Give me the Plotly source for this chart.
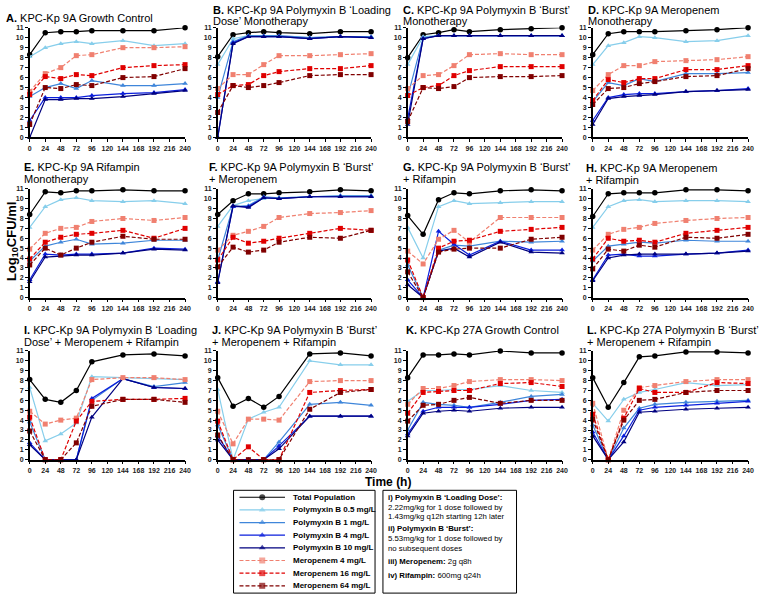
import plotly.graph_objects as go

W, H = 760, 605

times = [0, 24, 48, 72, 96, 144, 192, 240]
x_ticks = [0, 24, 48, 72, 96, 120, 144, 168, 192, 216, 240]
y_ticks = [0, 1, 2, 3, 4, 5, 6, 7, 8, 9, 10, 11]

series_names = ["Total Population", "Polymyxin B 0.5 mg/L", "Polymyxin B 1 mg/L",
                "Polymyxin B 4 mg/L", "Polymyxin B 10 mg/L", "Meropenem 4 mg/L",
                "Meropenem 16 mg/L", "Meropenem 64 mg/L"]

# values per panel, series order as in series_names
panel_a = [[8.3, 10.5, 10.6, 10.6, 10.7, 10.7, 10.7, 11.0],
           [8.1, 9.0, 9.4, 9.6, 9.4, 9.7, 9.2, 9.4],
           [4.1, 5.0, 5.4, 4.9, 5.7, 5.2, 5.2, 5.4],
           [1.7, 4.0, 4.0, 4.0, 4.2, 4.4, 4.5, 4.8],
           [0.0, 3.8, 3.8, 3.9, 3.9, 4.1, 4.4, 4.7],
           [4.6, 6.4, 7.0, 8.2, 8.3, 9.0, 9.0, 9.1],
           [4.3, 6.1, 5.9, 6.3, 6.2, 7.0, 7.2, 7.3],
           [1.3, 5.0, 4.9, 5.3, 5.2, 6.0, 6.1, 6.9]]
panel_b = [[8.1, 10.3, 10.5, 10.6, 10.5, 10.4, 10.6, 10.6],
           [7.3, 9.9, 10.2, 10.1, 10.1, 10.0, 10.1, 10.1],
           [4.0, 9.6, 10.2, 10.2, 10.2, 10.0, 10.1, 10.1],
           [0.0, 9.5, 10.1, 10.1, 10.1, 9.9, 10.1, 10.0],
           [0.0, 9.4, 10.1, 10.1, 10.1, 9.9, 10.1, 10.0],
           [4.9, 6.3, 6.3, 7.3, 8.2, 8.2, 8.3, 8.4],
           [4.3, 5.2, 5.3, 6.2, 6.6, 6.9, 6.9, 7.2],
           [2.5, 5.2, 5.0, 5.2, 5.5, 6.2, 6.3, 6.3]]
panel_c = [[8.0, 10.3, 10.5, 10.8, 10.6, 10.8, 10.9, 11.0],
           [7.3, 10.1, 10.2, 10.2, 10.2, 10.2, 10.2, 10.2],
           [4.1, 10.0, 10.2, 10.2, 10.2, 10.2, 10.2, 10.2],
           [1.9, 9.9, 10.2, 10.2, 10.2, 10.2, 10.2, 10.2],
           [1.3, 9.9, 10.2, 10.2, 10.2, 10.2, 10.2, 10.2],
           [4.9, 6.2, 6.3, 7.2, 8.3, 8.4, 8.3, 8.3],
           [4.2, 5.0, 5.2, 6.2, 6.7, 7.1, 7.1, 7.1],
           [1.6, 5.0, 4.9, 5.1, 6.0, 6.1, 6.1, 6.2]]
panel_d = [[8.3, 10.4, 10.6, 10.6, 10.6, 10.7, 10.8, 11.0],
           [7.3, 9.2, 9.5, 10.1, 10.0, 9.6, 9.7, 10.2],
           [3.6, 5.5, 5.2, 5.9, 5.6, 6.4, 6.4, 6.5],
           [1.7, 4.0, 4.3, 4.4, 4.4, 4.6, 4.7, 4.9],
           [1.3, 3.9, 4.1, 4.2, 4.3, 4.6, 4.7, 4.8],
           [4.7, 6.3, 7.2, 7.2, 7.6, 7.7, 7.8, 8.1],
           [3.7, 5.8, 5.5, 5.9, 5.9, 6.8, 6.8, 7.2],
           [3.3, 4.9, 5.0, 5.4, 5.6, 6.1, 6.2, 6.9]]
panel_e = [[8.4, 10.7, 10.6, 10.8, 10.8, 10.9, 10.8, 10.8],
           [7.1, 9.2, 9.9, 10.1, 9.8, 9.7, 9.8, 9.5],
           [3.7, 5.2, 5.6, 5.9, 5.4, 5.5, 5.8, 5.8],
           [1.8, 4.4, 4.3, 4.4, 4.4, 4.5, 5.0, 4.9],
           [1.6, 4.1, 4.2, 4.3, 4.3, 4.5, 4.9, 4.8],
           [4.9, 6.5, 7.0, 7.1, 7.7, 8.0, 7.8, 8.1],
           [3.9, 5.6, 6.1, 6.4, 6.5, 6.8, 6.0, 7.0],
           [3.3, 5.0, 4.3, 5.0, 5.6, 6.2, 5.9, 5.9]]
panel_f = [[8.4, 9.8, 10.5, 10.5, 10.6, 10.7, 10.9, 10.8],
           [7.2, 9.3, 9.8, 10.0, 10.1, 10.2, 10.3, 10.3],
           [3.8, 9.2, 9.3, 10.2, 10.1, 10.2, 10.3, 10.3],
           [1.6, 9.2, 9.2, 10.1, 10.0, 10.2, 10.2, 10.2],
           [1.5, 9.3, 9.1, 10.1, 10.0, 10.2, 10.2, 10.2],
           [4.8, 6.3, 6.7, 7.2, 8.1, 8.5, 8.6, 8.8],
           [3.8, 6.1, 5.5, 5.7, 6.0, 6.5, 7.0, 6.8],
           [3.1, 5.1, 4.6, 4.8, 5.6, 6.1, 6.0, 6.8]]
panel_g = [[8.3, 6.4, 9.9, 10.6, 10.5, 10.8, 10.9, 10.8],
           [7.1, 4.0, 9.2, 9.8, 9.5, 9.6, 9.7, 9.7],
           [3.3, 0.0, 4.8, 5.3, 5.2, 5.7, 5.6, 5.7],
           [1.8, 0.0, 6.7, 5.4, 4.3, 5.7, 4.8, 4.8],
           [1.3, 0.0, 4.7, 5.0, 4.1, 5.6, 4.6, 4.5],
           [4.7, 3.4, 5.9, 6.8, 5.6, 8.1, 8.1, 8.1],
           [3.8, 0.0, 5.0, 5.7, 5.8, 6.7, 6.9, 7.1],
           [2.6, 0.0, 4.6, 4.9, 5.0, 5.0, 5.9, 6.1]]
panel_h = [[8.2, 10.5, 10.6, 10.6, 10.6, 10.9, 10.9, 10.8],
           [7.1, 9.2, 9.8, 9.9, 9.7, 9.8, 9.8, 9.7],
           [3.7, 5.2, 5.4, 5.6, 5.5, 5.8, 5.7, 5.7],
           [1.8, 4.3, 4.4, 4.2, 4.2, 4.4, 4.5, 4.8],
           [1.7, 4.0, 4.3, 4.4, 4.4, 4.4, 4.5, 4.7],
           [4.8, 6.4, 6.9, 7.1, 7.5, 7.8, 8.0, 8.1],
           [3.9, 6.0, 5.7, 5.8, 5.6, 6.5, 6.8, 7.1],
           [2.9, 4.9, 4.7, 5.3, 5.1, 6.1, 6.0, 6.4]]
panel_i = [[8.1, 6.1, 5.8, 7.0, 9.9, 10.6, 10.7, 10.5],
           [7.3, 1.9, 2.6, 3.7, 8.4, 8.3, 8.2, 8.1],
           [3.8, 0.0, 0.0, 0.0, 6.0, 8.2, 7.4, 7.8],
           [1.7, 0.0, 0.0, 0.0, 6.2, 8.2, 7.3, 7.2],
           [1.5, 0.0, 0.0, 0.0, 4.3, 8.2, 7.3, 7.2],
           [4.9, 3.6, 4.0, 4.2, 8.1, 8.3, 8.3, 8.1],
           [4.3, 0.0, 0.0, 3.9, 5.9, 6.1, 6.1, 6.2],
           [2.9, 0.0, 0.0, 1.7, 5.4, 6.1, 6.1, 5.8]]
panel_j = [[8.3, 5.4, 6.2, 5.3, 6.4, 10.7, 10.8, 10.5],
           [7.1, 0.0, 4.1, 4.8, 5.3, 10.0, 9.6, 9.6],
           [3.5, 0.0, 0.0, 0.0, 1.8, 5.6, 5.8, 5.5],
           [2.4, 0.0, 0.0, 0.0, 1.4, 4.4, 4.4, 4.4],
           [2.0, 0.0, 0.0, 0.0, 1.1, 4.4, 4.4, 4.4],
           [4.9, 1.6, 4.1, 4.1, 4.0, 7.9, 8.0, 8.0],
           [3.9, 0.0, 1.3, 0.0, 0.0, 6.8, 7.0, 7.1],
           [2.5, 0.0, 0.0, 0.0, 0.0, 5.1, 6.8, 7.1]]
panel_k = [[8.3, 10.6, 10.6, 10.7, 10.6, 11.0, 10.8, 10.8],
           [5.9, 7.0, 7.0, 7.1, 7.1, 7.5, 7.0, 6.8],
           [3.0, 5.8, 5.6, 5.5, 5.3, 5.8, 6.4, 6.6],
           [2.6, 4.9, 5.3, 5.3, 5.3, 5.6, 6.0, 6.1],
           [2.4, 4.7, 4.9, 5.0, 4.9, 5.2, 5.3, 5.3],
           [5.6, 7.2, 7.2, 7.5, 7.9, 8.1, 8.1, 8.0],
           [4.7, 6.8, 6.9, 7.0, 7.0, 7.7, 7.8, 7.4],
           [3.9, 5.5, 5.6, 6.0, 6.3, 5.7, 6.0, 6.0]]
panel_l = [[8.3, 5.3, 7.8, 10.4, 10.5, 10.9, 10.9, 10.8],
           [5.7, 3.9, 6.1, 6.8, 7.1, 7.8, 7.5, 7.6],
           [3.5, 0.0, 3.2, 5.2, 5.6, 5.8, 5.9, 6.0],
           [2.8, 0.0, 2.4, 5.0, 5.3, 5.5, 5.7, 5.9],
           [2.4, 0.0, 1.8, 4.8, 4.9, 5.1, 5.2, 5.3],
           [5.7, 0.0, 5.0, 7.3, 7.5, 7.9, 8.1, 8.1],
           [4.6, 0.0, 4.2, 7.2, 6.8, 6.8, 7.8, 7.7],
           [4.1, 0.0, 4.0, 6.0, 6.1, 6.8, 7.0, 7.0]]

panel_titles = [
    ["<b>A.</b> KPC-Kp 9A Growth Control"],
    ["<b>B.</b> KPC-Kp 9A Polymyxin B ‘Loading", "Dose’ Monotherapy"],
    ["<b>C.</b> KPC-Kp 9A Polymyxin B ‘Burst’", "Monotherapy"],
    ["<b>D.</b> KPC-Kp 9A Meropenem", "Monotherapy"],
    ["<b>E.</b> KPC-Kp 9A Rifampin", "Monotherapy"],
    ["<b>F.</b> KPC-Kp 9A Polymyxin B ‘Burst’", "+ Meropenem"],
    ["<b>G.</b> KPC-Kp 9A Polymyxin B ‘Burst’", "+ Rifampin"],
    ["<b>H.</b> KPC-Kp 9A Meropenem", "+ Rifampin"],
    ["<b>I.</b> KPC-Kp 9A Polymyxin B ‘Loading", "Dose’ + Meropenem + Rifampin"],
    ["<b>J.</b> KPC-Kp 9A Polymyxin B ‘Burst’", "+ Meropenem + Rifampin"],
    ["<b>K.</b> KPC-Kp 27A Growth Control"],
    ["<b>L.</b> KPC-Kp 27A Polymyxin B ‘Burst’", "+ Meropenem + Rifampin"],
]

dose_notes = [
    "<b>i) Polymyxin B ‘Loading Dose’:</b>",
    "2.22mg/kg for 1 dose followed by",
    "1.43mg/kg q12h starting 12h later",
    "<b>ii) Polymyxin B ‘Burst’:</b>",
    "5.53mg/kg for 1 dose followed by",
    "no subsequent doses",
    "<b>iii) Meropenem:</b> 2g q8h",
    "<b>iv) Rifampin:</b> 600mg q24h",
]

# styles
colors = ["#000000", "#87CEEB", "#3F86DA", "#0A1EDC", "#00007F",
          "#F08070", "#E00000", "#800000"]
dashes = ["solid", "solid", "solid", "solid", "solid", "dash", "dash", "dash"]
symbols = ["circle", "triangle-up", "triangle-up", "triangle-up", "triangle-up",
           "square", "square", "square"]

panels = [panel_a, panel_b, panel_c, panel_d, panel_e, panel_f,
          panel_g, panel_h, panel_i, panel_j, panel_k, panel_l]

col_x = [(28, 185), (218, 373), (410, 566), (597, 754)]
row_y = [(24, 135), (187, 297), (351, 461)]
title_x = [2, 211, 403, 590, 20, 207, 403, 588, 20, 210, 406, 589]
title_y = [(14,), (6, 17.5), (6, 17.5), (6, 17.5),
           (165, 177), (165, 177), (165, 177), (166, 178),
           (330, 342), (330, 342), (330,), (330, 342)]

FONT = "Arial, Liberation Sans, sans-serif"

fig = go.Figure()
layout = {}
annotations = []
shapes = []

for i, pdata in enumerate(panels):
    k = i + 1
    r, c = divmod(i, 4)
    xa = "x" if k == 1 else f"x{k}"
    ya = "y" if k == 1 else f"y{k}"
    for s in range(8):
        fig.add_trace(go.Scatter(
            x=times, y=pdata[s], xaxis=xa, yaxis=ya, mode="lines+markers",
            name=series_names[s], showlegend=False, cliponaxis=False,
            line=dict(color=colors[s], width=1.2, dash="4px,2px" if dashes[s] == "dash" else "solid"),
            marker=dict(symbol=symbols[s], color=colors[s], size=5.5 if s == 0 else 5,
                        line=dict(width=0))))
    x0, x1 = col_x[c]
    y0, y1 = row_y[r]
    layout["xaxis" if k == 1 else f"xaxis{k}"] = dict(
        domain=[x0 / W, x1 / W], range=[0, 240], tickvals=x_ticks,
        ticks="outside", ticklen=3, tickwidth=1, tickcolor="black",
        showline=True, linecolor="black", linewidth=1.5, showgrid=False,
        zeroline=False, tickfont=dict(size=7, family=FONT, color="#222", weight="bold"),
        anchor=ya, fixedrange=True)
    layout["yaxis" if k == 1 else f"yaxis{k}"] = dict(
        domain=[1 - y1 / H, 1 - y0 / H], range=[0, 11], tickvals=y_ticks,
        ticks="outside", ticklen=3, tickwidth=1, tickcolor="black",
        showline=True, linecolor="black", linewidth=1.5, showgrid=False,
        zeroline=False, tickfont=dict(size=7, family=FONT, color="#222", weight="bold"),
        anchor=xa, fixedrange=True)
    for line_text, ty in zip(panel_titles[i], title_y[i]):
        annotations.append(dict(
            text=line_text, x=title_x[i] / W, y=1 - ty / H, xref="paper", yref="paper",
            xanchor="left", yanchor="middle", showarrow=False,
            font=dict(size=11, family=FONT, color="black")))

# legend (manual) on its own axis, in pixel-like units
LX0, LX1, LY0, LY1 = 234, 377, 492, 596
layout["xaxis13"] = dict(domain=[LX0 / W, LX1 / W], range=[LX0, LX1], visible=False,
                         anchor="y13", fixedrange=True)
layout["yaxis13"] = dict(domain=[1 - LY1 / H, 1 - LY0 / H], range=[LY1, LY0], visible=False,
                         anchor="x13", fixedrange=True)
for s in range(8):
    yy = 499 + 12.8 * s
    fig.add_trace(go.Scatter(
        x=[240, 263, 286], y=[yy, yy, yy], xaxis="x13", yaxis="y13",
        mode="lines+markers", showlegend=False, cliponaxis=False, hoverinfo="skip",
        line=dict(color=colors[s], width=1.2, dash="4px,2px" if dashes[s] == "dash" else "solid"),
        marker=dict(symbol=symbols[s], color=colors[s], size=[0, 6, 0], line=dict(width=0))))
    annotations.append(dict(
        text=f"<b>{series_names[s]}</b>", x=292, y=yy, xref="x13", yref="y13",
        xanchor="left", yanchor="middle", showarrow=False,
        font=dict(size=8, family=FONT, color="black")))
shapes.append(dict(type="rect", xref="paper", yref="paper",
                   x0=LX0 / W, x1=LX1 / W, y0=1 - LY1 / H, y1=1 - LY0 / H,
                   line=dict(color="black", width=1)))

# dose notes box
RX0, RX1 = 385, 520
note_y = [499, 509.5, 519, 531, 541, 550.5, 564, 578]
shapes.append(dict(type="rect", xref="paper", yref="paper",
                   x0=RX0 / W, x1=RX1 / W, y0=1 - LY1 / H, y1=1 - LY0 / H,
                   line=dict(color="black", width=1)))
for txt, ty in zip(dose_notes, note_y):
    annotations.append(dict(
        text=txt, x=(RX0 + 3) / W, y=1 - ty / H, xref="paper", yref="paper",
        xanchor="left", yanchor="middle", showarrow=False,
        font=dict(size=7.8, family=FONT, color="black")))

# axis titles
annotations.append(dict(text="<b>Log<sub>10</sub>CFU/ml</b>", x=10 / W, y=1 - 240 / H,
                        xref="paper", yref="paper", textangle=-90, showarrow=False,
                        xanchor="center", yanchor="middle",
                        font=dict(size=13, family=FONT, color="black")))
annotations.append(dict(text="<b>Time (h)</b>", x=390 / W, y=1 - 484 / H,
                        xref="paper", yref="paper", showarrow=False,
                        xanchor="center", yanchor="middle",
                        font=dict(size=12, family=FONT, color="black")))

fig.update_layout(**layout)
fig.update_layout(width=W, height=H, margin=dict(l=0, r=0, t=0, b=0),
                  paper_bgcolor="white", plot_bgcolor="white",
                  annotations=annotations, shapes=shapes, showlegend=False,
                  font=dict(family=FONT))
fig.write_html("out.html", config={"displayModeBar": False},
               post_script="document.body.style.margin='0';")
